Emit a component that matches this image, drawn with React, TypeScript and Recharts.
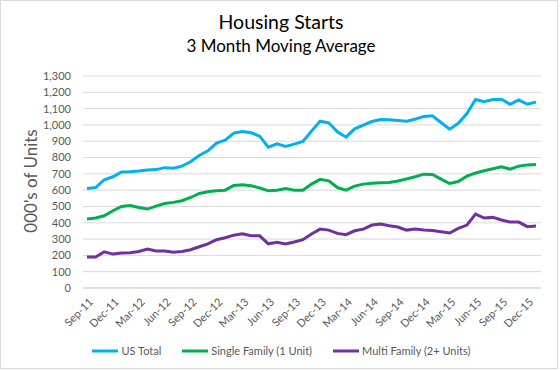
import React from 'react'
import { LineChart, Line, XAxis, YAxis, CartesianGrid } from 'recharts'

const months = [
  'Sep-11', 'Oct-11', 'Nov-11', 'Dec-11', 'Jan-12', 'Feb-12', 'Mar-12', 'Apr-12', 'May-12',
  'Jun-12', 'Jul-12', 'Aug-12', 'Sep-12', 'Oct-12', 'Nov-12', 'Dec-12', 'Jan-13', 'Feb-13',
  'Mar-13', 'Apr-13', 'May-13', 'Jun-13', 'Jul-13', 'Aug-13', 'Sep-13', 'Oct-13', 'Nov-13',
  'Dec-13', 'Jan-14', 'Feb-14', 'Mar-14', 'Apr-14', 'May-14', 'Jun-14', 'Jul-14', 'Aug-14',
  'Sep-14', 'Oct-14', 'Nov-14', 'Dec-14', 'Jan-15', 'Feb-15', 'Mar-15', 'Apr-15', 'May-15',
  'Jun-15', 'Jul-15', 'Aug-15', 'Sep-15', 'Oct-15', 'Nov-15', 'Dec-15', 'Jan-16',
]

const usTotal = [
  610, 616, 664, 682, 711, 713, 717, 723, 726, 738, 735, 747, 774, 813, 841, 888, 907, 950,
  960, 952, 931, 864, 884, 868, 882, 898, 962, 1023, 1013, 958, 925, 976, 999, 1021, 1033,
  1031, 1027, 1023, 1035, 1052, 1056, 1015, 974, 1010, 1070, 1156, 1143, 1156, 1158, 1127,
  1154, 1127, 1140,
]

const singleFamily = [
  423, 429, 443, 474, 500, 506, 494, 484, 502, 518, 525, 535, 555, 580, 590, 596, 600, 629,
  633, 627, 613, 596, 600, 610, 600, 600, 637, 666, 657, 616, 600, 625, 637, 643, 645, 647,
  656, 668, 682, 698, 696, 668, 641, 653, 686, 705, 719, 731, 743, 729, 747, 755, 757,
]

const multiFamily = [
  190, 190, 222, 208, 214, 216, 224, 239, 227, 227, 220, 224, 235, 253, 271, 296, 308, 324,
  333, 320, 320, 271, 280, 270, 282, 296, 331, 361, 355, 335, 327, 351, 361, 386, 392, 382,
  374, 355, 361, 355, 353, 345, 337, 365, 386, 453, 429, 433, 417, 404, 404, 376, 380,
]

const yTicks = [0, 100, 200, 300, 400, 500, 600, 700, 800, 900, 1000, 1100, 1200, 1300]

const series = [
  { key: 'us', name: 'US Total', color: '#00B0F0' },
  { key: 'single', name: 'Single Family (1 Unit)', color: '#00B050' },
  { key: 'multi', name: 'Multi Family (2+ Units)', color: '#7030A0' },
]

const data = months.map((m, i) => ({
  month: m,
  us: usTotal[i],
  single: singleFamily[i],
  multi: multiFamily[i],
}))

const FONT = 'Lato, "Liberation Sans", sans-serif'
const TEXT = '#595959'

function MonthTick(props: any) {
  const { x, y, payload } = props
  return (
    <g transform={`translate(${x + 4},${y + 10})`}>
      <text
        transform="rotate(-45)"
        textAnchor="end"
        dy="0.35em"
        fill={TEXT}
        fontSize={11}
        fontFamily={FONT}
      >
        {payload.value}
      </text>
    </g>
  )
}

export default function App() {
  return (
    <div
      style={{
        position: 'absolute',
        top: 0,
        left: 0,
        width: 558,
        height: 369,
        border: '1px solid #d9d9d9',
        boxSizing: 'border-box',
        background: '#fff',
        fontFamily: FONT,
      }}
    >
      <div style={{ position: 'absolute', top: 0, left: 0, width: 560, height: 371 }}>
        <div
          style={{
            position: 'absolute',
            top: 9,
            width: 560,
            textAlign: 'center',
            fontSize: 19.5,
            color: '#000',
          }}
        >
          Housing Starts
        </div>
        <div
          style={{
            position: 'absolute',
            top: 34,
            width: 560,
            textAlign: 'center',
            fontSize: 17,
            color: '#000',
          }}
        >
          3 Month Moving Average
        </div>
        <div
          style={{
            position: 'absolute',
            left: 29,
            top: 180,
            transform: 'translate(-50%, -50%) rotate(-90deg)',
            whiteSpace: 'nowrap',
            fontSize: 17,
            color: TEXT,
          }}
        >
          000's of Units
        </div>

        <LineChart
          width={560}
          height={371}
          data={data}
          margin={{ top: 75, right: 20, bottom: 24, left: 0 }}
        >
          <CartesianGrid vertical={false} stroke="#d9d9d9" />
          <XAxis
            dataKey="month"
            height={60}
            interval={2}
            padding={{ left: 4, right: 5 }}
            tickLine={false}
            tickSize={0}
            axisLine={{ stroke: '#d9d9d9' }}
            tick={<MonthTick />}
          />
          <YAxis
            width={82}
            domain={[0, 1300]}
            ticks={yTicks}
            interval={0}
            axisLine={false}
            tickLine={false}
            tickSize={0}
            tickMargin={12}
            tick={{ fill: TEXT, fontSize: 11, fontFamily: FONT }}
            tickFormatter={(v: number) => v.toLocaleString('en-US')}
          />
          {series.map((s) => (
            <Line
              key={s.key}
              type="linear"
              dataKey={s.key}
              name={s.name}
              stroke={s.color}
              strokeWidth={3}
              dot={false}
              isAnimationActive={false}
            />
          ))}
        </LineChart>

        <div
          style={{
            position: 'absolute',
            top: 343,
            left: 0,
            width: 560,
            display: 'flex',
            justifyContent: 'center',
            gap: 20,
            fontSize: 11,
            color: TEXT,
          }}
        >
          {series.map((s) => (
            <div key={s.key} style={{ display: 'flex', alignItems: 'center' }}>
              <svg width={28} height={6} style={{ marginRight: 2 }}>
                <line x1={1} y1={3} x2={27} y2={3} stroke={s.color} strokeWidth={3} />
              </svg>
              <span>{s.name}</span>
            </div>
          ))}
        </div>
      </div>
    </div>
  )
}
